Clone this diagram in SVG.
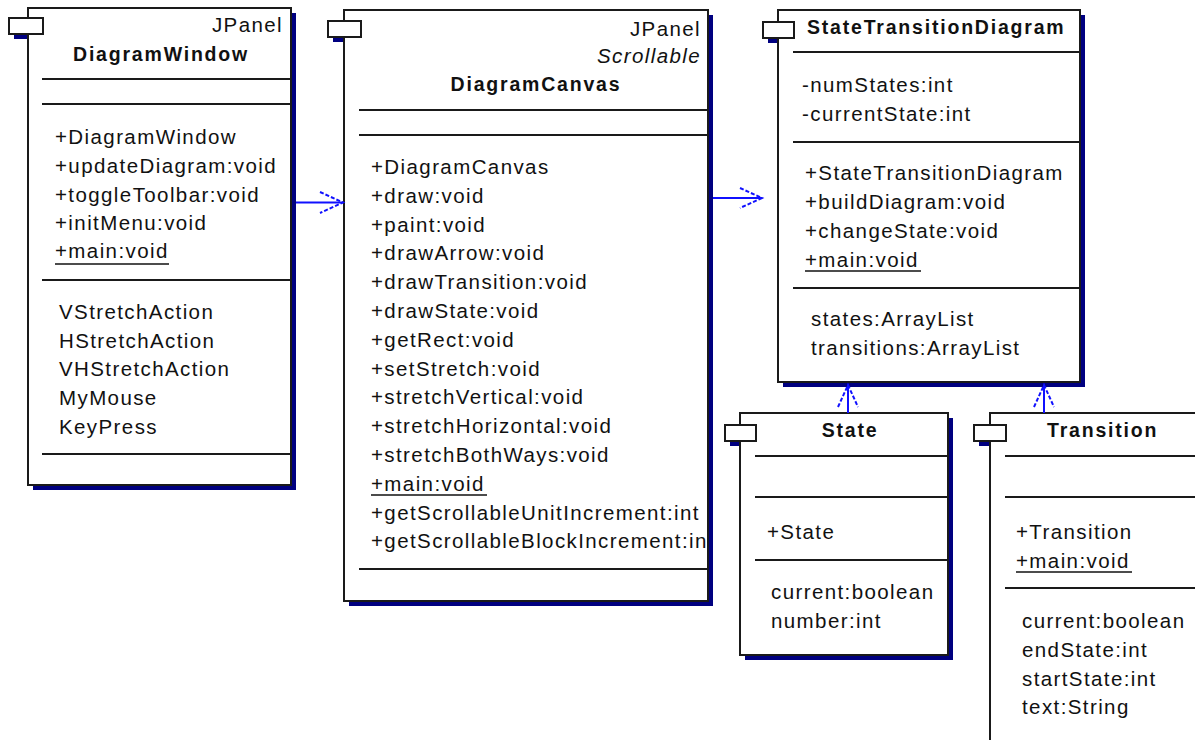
<svg xmlns="http://www.w3.org/2000/svg" width="1195" height="740" viewBox="0 0 1195 740">
<style>
.sh{fill:#000080}
.bx{fill:#fff;stroke:#1a1a1a;stroke-width:2}
.sep{stroke:#1a1a1a;stroke-width:2}
.t{font-family:"Liberation Sans",Arial,sans-serif;font-size:20.5px;letter-spacing:1.4px;fill:#111}
.b{font-weight:bold;font-size:19.5px;letter-spacing:1.8px}
.i{font-style:italic}
.ul{stroke:#111;stroke-width:1.5}
.conn{stroke:#1010ff;stroke-width:2;fill:none}
.wing{stroke:#1010ff;stroke-width:2;fill:none;stroke-dasharray:4 2}
</style>
<defs>
<clipPath id="clipDC"><rect x="344" y="10" width="363" height="591"/></clipPath>
</defs>
<rect width="1195" height="740" fill="#fff"/>

<g id="DiagramWindow">
<rect class="sh" x="33" y="13" width="263" height="477"/>
<rect class="sh" x="14" y="23" width="34" height="16"/>
<rect class="bx" x="28" y="8" width="263" height="477"/>
<rect class="bx" x="9" y="18" width="34" height="16"/>
<text class="t" x="283" y="32" text-anchor="end">JPanel</text>
<text class="t b" x="161" y="61" text-anchor="middle">DiagramWindow</text>
<line class="sep" x1="42" y1="79" x2="291" y2="79"/>
<line class="sep" x1="42" y1="104" x2="291" y2="104"/>
<text class="t" x="55" y="144">+DiagramWindow</text>
<text class="t" x="55" y="173">+updateDiagram:void</text>
<text class="t" x="55" y="202">+toggleToolbar:void</text>
<text class="t" x="55" y="230">+initMenu:void</text>
<text class="t" x="55" y="258">+main:void</text>
<line class="ul" x1="55" y1="264" x2="169" y2="264"/>
<line class="sep" x1="42" y1="280" x2="291" y2="280"/>
<text class="t" x="59" y="319">VStretchAction</text>
<text class="t" x="59" y="348">HStretchAction</text>
<text class="t" x="59" y="376">VHStretchAction</text>
<text class="t" x="59" y="405">MyMouse</text>
<text class="t" x="59" y="434">KeyPress</text>
<line class="sep" x1="42" y1="454" x2="291" y2="454"/>
</g>

<g id="DiagramCanvas">
<rect class="sh" x="349" y="15" width="364" height="591"/>
<rect class="sh" x="333" y="26" width="33" height="16"/>
<rect class="bx" x="344" y="10" width="364" height="591"/>
<rect class="bx" x="328" y="21" width="33" height="16"/>
<text class="t" x="701" y="36" text-anchor="end">JPanel</text>
<text class="t i" x="701" y="63" text-anchor="end">Scrollable</text>
<text class="t b" x="536" y="91" text-anchor="middle">DiagramCanvas</text>
<line class="sep" x1="359" y1="110" x2="708" y2="110"/>
<line class="sep" x1="359" y1="135" x2="708" y2="135"/>
<text class="t" x="371" y="174">+DiagramCanvas</text>
<text class="t" x="371" y="203">+draw:void</text>
<text class="t" x="371" y="232">+paint:void</text>
<text class="t" x="371" y="260">+drawArrow:void</text>
<text class="t" x="371" y="289">+drawTransition:void</text>
<text class="t" x="371" y="318">+drawState:void</text>
<text class="t" x="371" y="347">+getRect:void</text>
<text class="t" x="371" y="376">+setStretch:void</text>
<text class="t" x="371" y="404">+stretchVertical:void</text>
<text class="t" x="371" y="433">+stretchHorizontal:void</text>
<text class="t" x="371" y="462">+stretchBothWays:void</text>
<text class="t" x="371" y="491">+main:void</text>
<line class="ul" x1="371" y1="495" x2="487" y2="495"/>
<text class="t" x="371" y="520">+getScrollableUnitIncrement:int</text>
<text class="t" x="371" y="548" clip-path="url(#clipDC)">+getScrollableBlockIncrement:in</text>
<line class="sep" x1="359" y1="569" x2="708" y2="569"/>
</g>

<g id="StateTransitionDiagram">
<rect class="sh" x="783" y="15" width="302" height="372"/>
<rect class="sh" x="768" y="27" width="31" height="16"/>
<rect class="bx" x="778" y="10" width="302" height="372"/>
<rect class="bx" x="763" y="22" width="31" height="16"/>
<text class="t b" x="807" y="34">StateTransitionDiagram</text>
<line class="sep" x1="793" y1="52" x2="1080" y2="52"/>
<text class="t" x="802" y="92">-numStates:int</text>
<text class="t" x="802" y="121">-currentState:int</text>
<line class="sep" x1="793" y1="142" x2="1080" y2="142"/>
<text class="t" x="805" y="180">+StateTransitionDiagram</text>
<text class="t" x="805" y="209">+buildDiagram:void</text>
<text class="t" x="805" y="238">+changeState:void</text>
<text class="t" x="805" y="267">+main:void</text>
<line class="ul" x1="805" y1="271" x2="921" y2="271"/>
<line class="sep" x1="793" y1="288" x2="1080" y2="288"/>
<text class="t" x="811" y="326">states:ArrayList</text>
<text class="t" x="811" y="355">transitions:ArrayList</text>
</g>

<g id="State">
<rect class="sh" x="745" y="418" width="208" height="242"/>
<rect class="sh" x="730" y="430" width="31" height="16"/>
<rect class="bx" x="740" y="413" width="208" height="242"/>
<rect class="bx" x="725" y="425" width="31" height="16"/>
<text class="t b" x="850" y="437" text-anchor="middle">State</text>
<line class="sep" x1="755" y1="456" x2="948" y2="456"/>
<line class="sep" x1="755" y1="497" x2="948" y2="497"/>
<text class="t" x="767" y="539">+State</text>
<line class="sep" x1="755" y1="560" x2="948" y2="560"/>
<text class="t" x="771" y="599">current:boolean</text>
<text class="t" x="771" y="628">number:int</text>
</g>

<g id="Transition">
<rect class="sh" x="979" y="430" width="32" height="16"/>
<rect class="bx" x="990" y="413" width="230" height="350"/>
<rect class="bx" x="974" y="425" width="32" height="16"/>
<text class="t b" x="1047" y="437">Transition</text>
<line class="sep" x1="1005" y1="456" x2="1195" y2="456"/>
<line class="sep" x1="1005" y1="497" x2="1195" y2="497"/>
<text class="t" x="1016" y="539">+Transition</text>
<text class="t" x="1016" y="568">+main:void</text>
<line class="ul" x1="1016" y1="572" x2="1132" y2="572"/>
<line class="sep" x1="1005" y1="588" x2="1195" y2="588"/>
<text class="t" x="1022" y="628">current:boolean</text>
<text class="t" x="1022" y="657">endState:int</text>
<text class="t" x="1022" y="686">startState:int</text>
<text class="t" x="1022" y="714">text:String</text>
</g>

<g id="connectors">
<line class="conn" x1="296" y1="202.5" x2="343" y2="202.5"/>
<polyline class="wing" points="320,192 343,202.5 320,213"/>
<line class="conn" x1="713" y1="198" x2="762" y2="198"/>
<polyline class="wing" points="740,188 762,198 740,208"/>
<line class="conn" x1="848" y1="413" x2="848" y2="385"/>
<polyline class="wing" points="838,407 848,385 858,407"/>
<line class="conn" x1="1044" y1="413" x2="1044" y2="385"/>
<polyline class="wing" points="1034,407 1044,385 1054,407"/>
</g>
</svg>
